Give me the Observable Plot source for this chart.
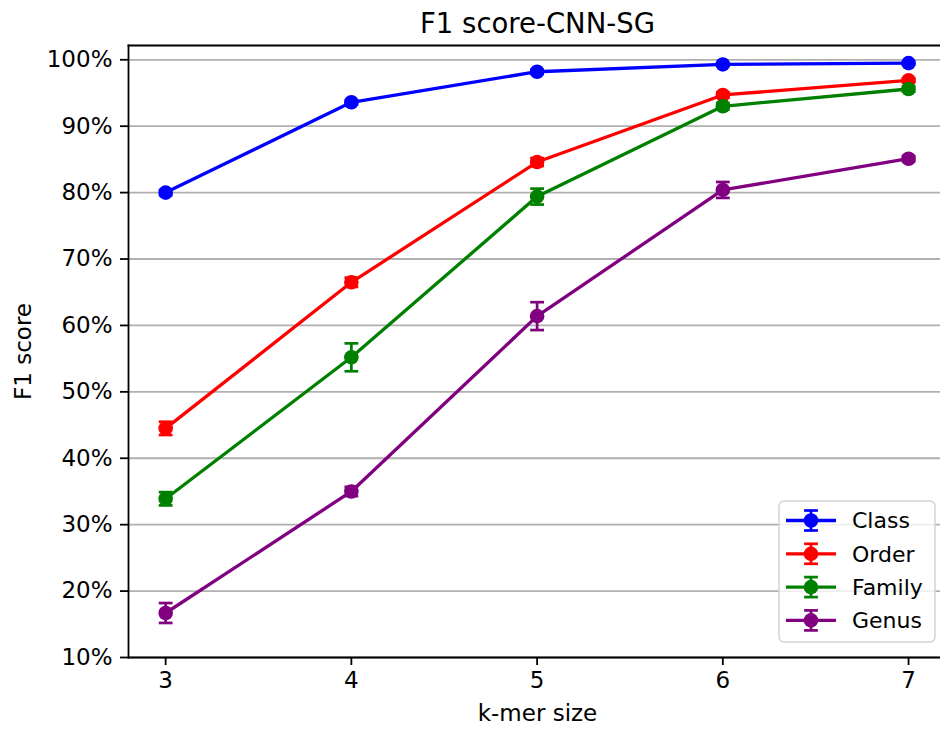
<!DOCTYPE html>
<html>
<head>
<meta charset="utf-8">
<script src="https://cdn.jsdelivr.net/npm/d3@7"></script>
<script src="https://cdn.jsdelivr.net/npm/@observablehq/plot@0.6"></script>
<style>
  html, body { margin: 0; padding: 0; background: #fff; overflow: hidden; }
  #chart { width: 940px; height: 729px; }
</style>
</head>
<body>
<div id="chart"></div>
<script>
const kmers = [3, 4, 5, 6, 7];
const seriesNames = ["Class", "Order", "Family", "Genus"];
const seriesColors = ["#0000ff", "#ff0000", "#008000", "#800080"];
const classF1 = [80.0, 93.6, 98.2, 99.3, 99.5];
const orderF1 = [44.5, 66.5, 84.6, 94.7, 96.9];
const familyF1 = [33.9, 55.2, 79.4, 93.0, 95.6];
const genusF1 = [16.7, 35.0, 61.4, 80.4, 85.1];
const classErr = [0.4, 0.3, 0.3, 0.2, 0.2];
const orderErr = [1.0, 0.7, 0.6, 0.4, 0.3];
const familyErr = [1.0, 2.1, 1.2, 0.5, 0.4];
const genusErr = [1.5, 0.7, 2.1, 1.2, 0.4];
const yTicks = [10, 20, 30, 40, 50, 60, 70, 80, 90, 100];

const values = [classF1, orderF1, familyF1, genusF1];
const errors = [classErr, orderErr, familyErr, genusErr];
const data = [];
seriesNames.forEach((s, i) => {
  kmers.forEach((k, j) => {
    data.push({series: s, k, v: values[i][j], e: errors[i][j]});
  });
});

const FONT = "DejaVu Sans";
const capHalf = 6.9;
const dotR = 7.3;
const capSymbol = { draw(ctx) { ctx.moveTo(-capHalf, 0); ctx.lineTo(capHalf, 0); } };

const marks = [
  Plot.gridY(yTicks, {stroke: "#b0b0b0", strokeOpacity: 1, strokeWidth: 1.8}),
];
seriesNames.forEach((s, i) => {
  const d = data.filter(r => r.series === s);
  const c = seriesColors[i];
  marks.push(
    Plot.line(d, {x: "k", y: "v", stroke: c, strokeWidth: 3.3}),
    Plot.ruleX(d, {x: "k", y1: r => r.v - r.e, y2: r => r.v + r.e, stroke: c, strokeWidth: 2.7}),
    Plot.dot(d, {x: "k", y: r => r.v - r.e, symbol: capSymbol, fill: "none", stroke: c, strokeWidth: 2.7, r: 5}),
    Plot.dot(d, {x: "k", y: r => r.v + r.e, symbol: capSymbol, fill: "none", stroke: c, strokeWidth: 2.7, r: 5}),
    Plot.dot(d, {x: "k", y: "v", r: dotR, fill: c, stroke: "none"})
  );
});
marks.push(
  Plot.frame({anchor: "left", stroke: "black", strokeWidth: 1.8}),
  Plot.frame({anchor: "top", stroke: "black", strokeWidth: 1.8}),
  Plot.frame({anchor: "bottom", stroke: "black", strokeWidth: 1.8}),
  Plot.axisY(yTicks, {tickSize: 8, tickPadding: 8, tickFormat: d => d + "%", fontSize: 23, stroke: "black", strokeWidth: 1.8, fill: "black", label: null}),
  Plot.axisX(kmers, {tickSize: 8, tickPadding: 6, tickFormat: d => String(d), fontSize: 23, stroke: "black", strokeWidth: 1.8, fill: "black", label: null}),
  Plot.text(["F1 score-CNN-SG"], {frameAnchor: "top", lineAnchor: "middle", dy: -21, dx: 3, fontSize: 27.5, fill: "black", textAnchor: "middle"}),
  Plot.text(["k-mer size"], {frameAnchor: "bottom", lineAnchor: "middle", dy: 56, dx: 3, fontSize: 23, fill: "black", textAnchor: "middle"}),
  Plot.text(["F1 score"], {frameAnchor: "left", lineAnchor: "middle", dx: -105, rotate: -90, fontSize: 23, fill: "black", textAnchor: "middle"})
);

const plot = Plot.plot({
  width: 940,
  height: 729,
  marginLeft: 128,
  marginRight: 0,
  marginTop: 45,
  marginBottom: 72,
  style: {fontFamily: FONT, fontSize: "23px", color: "black", background: "white"},
  x: {domain: [2.8, 7.172], axis: null},
  y: {domain: [10, 102.15], axis: null},
  marks
});
document.getElementById("chart").appendChild(plot);

// legend (matplotlib-style, lower right)
const svg = d3.select(plot);
const lg = svg.append("g").attr("font-family", FONT);
const bx = 779, by = 501, bw = 156, bh = 141;
lg.append("rect").attr("x", bx).attr("y", by).attr("width", bw).attr("height", bh)
  .attr("rx", 5).attr("fill", "white").attr("fill-opacity", 0.8)
  .attr("stroke", "#d4d4d4").attr("stroke-width", 1.5);
seriesNames.forEach((s, i) => {
  const cy = 520.5 + i * 33.3;
  const c = seriesColors[i];
  const g = lg.append("g");
  g.append("line").attr("x1", 786).attr("x2", 836).attr("y1", cy).attr("y2", cy)
    .attr("stroke", c).attr("stroke-width", 3.3);
  g.append("line").attr("x1", 811).attr("x2", 811).attr("y1", cy - 10).attr("y2", cy + 10)
    .attr("stroke", c).attr("stroke-width", 2.7);
  [cy - 10, cy + 10].forEach(yy => g.append("line").attr("x1", 811 - capHalf).attr("x2", 811 + capHalf)
    .attr("y1", yy).attr("y2", yy).attr("stroke", c).attr("stroke-width", 2.7));
  g.append("circle").attr("cx", 811).attr("cy", cy).attr("r", dotR).attr("fill", c);
  g.append("text").attr("x", 852).attr("y", cy).attr("dy", "0.36em")
    .attr("text-anchor", "start")
    .attr("font-size", 22).attr("fill", "black").text(s);
});
</script>
</body>
</html>
